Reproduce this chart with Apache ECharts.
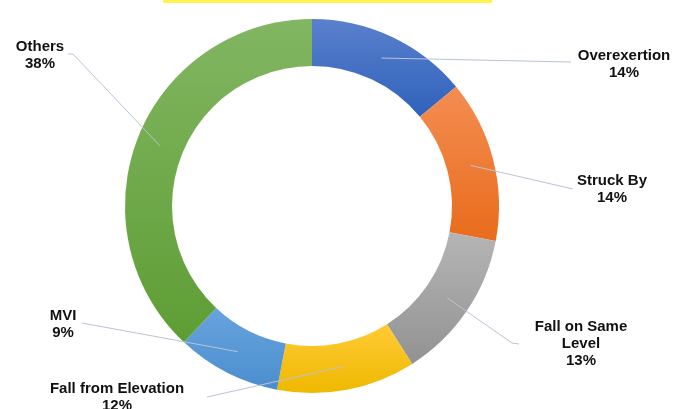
<!DOCTYPE html>
<html><head><meta charset="utf-8">
<script src="https://cdn.jsdelivr.net/npm/echarts@6/dist/echarts.min.js"></script>
<style>html,body{margin:0;padding:0;background:#fff}#c{width:677px;height:409px}</style>
</head><body><div id="c"></div>
<script>
// ---- data ----
const categories = ['Overexertion', 'Struck By', 'Fall on Same Level', 'Fall from Elevation', 'MVI', 'Others'];
const values = [14, 14, 13, 12, 9, 38];
const labelTexts = ['Overexertion', 'Struck By', 'Fall on Same\nLevel', 'Fall from Elevation', 'MVI', 'Others'];

// ---- styling / layout ----
const gradients = [
  ['#5A80CD', '#2F62BA'],
  ['#F48D52', '#E86C1C'],
  ['#B5B5B5', '#929292'],
  ['#FFCB36', '#EFB800'],
  ['#68A3DD', '#4A8ECF'],
  ['#82B662', '#5E9D34']
];
const labelPlace = [
  { x: 624, y: 64, end: [571, 62] },
  { x: 612, y: 189, end: [573, 189] },
  { x: 581, y: 344, end: [519, 344], bend: [512, 343] },
  { x: 117, y: 397, end: [207, 397] },
  { x: 63, y: 324, end: [82, 323] },
  { x: 40, y: 55, end: [68, 54], bend: [73, 54] }
];
const cx = 312, cy = 206, rIn = 140, rOut = 187;
const total = values.reduce((a, b) => a + b, 0);
const midR = (rIn + rOut) / 2;

const chart = echarts.init(document.getElementById('c'), null, { renderer: 'canvas' });
const ringData = categories.map((name, i) => ({
  name: name,
  value: values[i],
  itemStyle: {
    color: new echarts.graphic.LinearGradient(0, 0, 0, 1, [
      { offset: 0, color: gradients[i][0] },
      { offset: 1, color: gradients[i][1] }
    ])
  }
}));
const labelData = categories.map((name, i) => ({ name: name, value: values[i] }));

chart.setOption({
  animation: false,
  backgroundColor: '#ffffff',
  graphic: [{
    type: 'rect', left: 163, top: 0,
    shape: { width: 329, height: 3 },
    style: { fill: '#FFF34F' }
  }],
  series: [{
    type: 'pie',
    z: 1,
    center: [cx, cy],
    radius: [rIn, rOut],
    startAngle: 90,
    clockwise: true,
    data: ringData,
    itemStyle: { borderWidth: 0 },
    label: { show: false },
    labelLine: { show: false },
    emphasis: { disabled: true },
    silent: true
  }, {
    type: 'pie',
    z: 10,
    center: [cx, cy],
    radius: [rIn, rOut],
    startAngle: 90,
    clockwise: true,
    avoidLabelOverlap: false,
    data: labelData,
    itemStyle: { color: 'rgba(0,0,0,0)', borderWidth: 0 },
    label: {
      show: true,
      position: 'outside',
      formatter: p => labelTexts[p.dataIndex] + '\n' + p.value + '%',
      fontFamily: 'Liberation Sans, Arial, sans-serif',
      fontWeight: 'bold',
      fontSize: 15,
      lineHeight: 17,
      color: '#111111',
      align: 'center'
    },
    labelLine: {
      show: true,
      lineStyle: { color: '#B9C4D3', width: 1 }
    },
    labelLayout: function (p) {
      const i = p.dataIndex;
      let cum = 0;
      for (let k = 0; k < i; k++) cum += values[k];
      const theta = (cum + values[i] / 2) / total * Math.PI * 2;
      const start = [cx + midR * Math.sin(theta), cy - midR * Math.cos(theta)];
      const L = labelPlace[i];
      const mid = L.bend || [(start[0] + L.end[0]) / 2, (start[1] + L.end[1]) / 2];
      return {
        x: L.x, y: L.y, align: 'center', verticalAlign: 'middle',
        labelLinePoints: [start, mid, L.end]
      };
    },
    emphasis: { disabled: true },
    silent: true
  }]
});
</script></body></html>
